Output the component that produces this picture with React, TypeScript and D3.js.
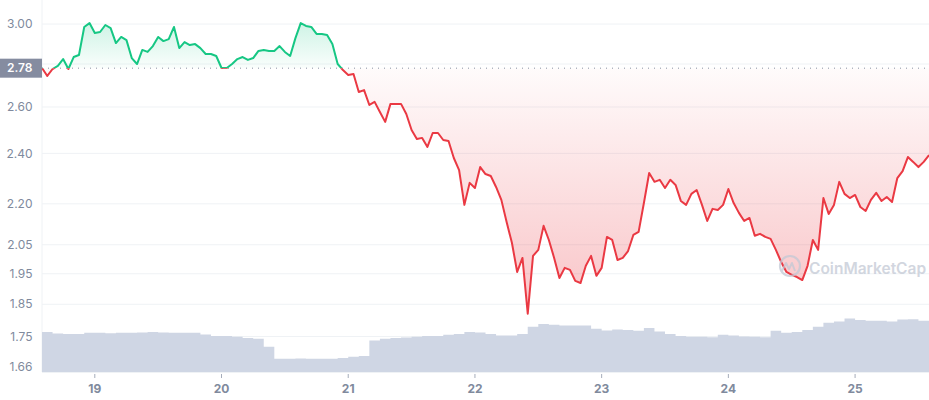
import React from 'react';
import * as d3 from 'd3';

// Hourly prices (USD), starting 18th 14:00 UTC
const START = Date.UTC(2021, 9, 18, 14);
const HOUR = 3600 * 1000;

const prices = [
  2.781, 2.743, 2.776, 2.791, 2.824, 2.776, 2.834, 2.844, 2.985, 3.005,
  2.954, 2.959, 2.995, 2.979, 2.903, 2.934, 2.918, 2.829, 2.800, 2.869,
  2.859, 2.888, 2.934, 2.913, 2.923, 2.985, 2.878, 2.908, 2.893, 2.898,
  2.878, 2.849, 2.849, 2.839, 2.781, 2.781, 2.800, 2.824, 2.834, 2.820,
  2.829, 2.864, 2.869, 2.864, 2.864, 2.888, 2.859, 2.839, 2.928, 3.005,
  2.990, 2.985, 2.949, 2.949, 2.944, 2.898, 2.800, 2.771, 2.748, 2.752,
  2.668, 2.677, 2.609, 2.623, 2.578, 2.534, 2.614, 2.614, 2.614, 2.569,
  2.499, 2.460, 2.465, 2.427, 2.486, 2.486, 2.456, 2.452, 2.381, 2.332,
  2.196, 2.281, 2.261, 2.344, 2.316, 2.308, 2.265, 2.215, 2.132, 2.057,
  1.956, 2.004, 1.820, 2.011, 2.032, 2.118, 2.067, 2.004, 1.936, 1.970,
  1.963, 1.926, 1.919, 1.977, 2.011, 1.943, 1.970, 2.078, 2.067, 1.997,
  2.004, 2.028, 2.085, 2.096, 2.203, 2.320, 2.285, 2.293, 2.261, 2.293,
  2.273, 2.211, 2.196, 2.238, 2.253, 2.196, 2.136, 2.181, 2.177, 2.196,
  2.257, 2.203, 2.166, 2.136, 2.147, 2.082, 2.089, 2.078, 2.071, 2.032,
  1.990, 1.956, 1.946, 1.939, 1.929, 1.977, 2.067, 2.032, 2.222, 2.162,
  2.196, 2.285, 2.238, 2.222, 2.234, 2.188, 2.173, 2.215, 2.242, 2.211,
  2.226, 2.207, 2.300, 2.328, 2.385, 2.365, 2.344, 2.365, 2.393,
];

// 2-hourly volume (millions USD)
const volumes = [
  100, 96, 95, 95, 98, 98, 97, 98, 98, 99,
  100, 99, 98, 98, 98, 94, 90, 90, 88, 85,
  83, 63, 33, 33, 34, 33, 33, 33, 35, 38,
  40, 79, 83, 85, 86, 88, 90, 90, 93, 95,
  100, 99, 95, 91, 91, 95, 113, 120, 118, 116,
  116, 116, 108, 104, 106, 105, 103, 110, 101, 95,
  90, 88, 88, 87, 93, 91, 89, 88, 87, 103,
  98, 100, 105, 113, 123, 126, 134, 130, 128, 128,
  126, 131, 132, 128,
];

// grid levels; the 2.80 level is covered by the reference-price label
const yTicks = [3.0, 2.8, 2.6, 2.4, 2.2, 2.05, 1.95, 1.85, 1.75, 1.66];
const yTickLabels = [3.0, 2.6, 2.4, 2.2, 2.05, 1.95, 1.85, 1.75, 1.66];
const refPrice = 2.78;
const refLabel = '2.78';
const watermark = 'CoinMarketCap';

const W = 929;
const H = 400;
const LEFT = 42;
const BOTTOM = 372;

const GREEN = '#16c784';
const RED = '#ea3943';
const GRID = '#eff2f5';
const LABEL = '#808a9d';

export default function App() {
  const end = START + 168 * HOUR;
  const x = d3.scaleUtc().domain([new Date(START), new Date(end)]).range([LEFT, W]);
  const y = d3.scaleLog().domain([1.646, 3.127]).range([BOTTOM, 0]);
  const yv = d3.scaleLinear().domain([0, 300]).range([BOTTOM, BOTTOM - 120]);

  const priceData = prices.map((p, i) => ({ t: new Date(START + i * HOUR), p }));
  const volData = volumes.map((v, i) => ({ t: new Date(START + i * 2 * HOUR), v }));
  volData.push({ t: new Date(end), v: volumes[volumes.length - 1] });

  const baseY = y(refPrice);

  const line = d3.line<{ t: Date; p: number }>().x(d => x(d.t)).y(d => y(d.p));
  const area = d3
    .area<{ t: Date; p: number }>()
    .x(d => x(d.t))
    .y0(baseY)
    .y1(d => y(d.p));
  const volArea = d3
    .area<{ t: Date; v: number }>()
    .x(d => x(d.t))
    .y0(BOTTOM)
    .y1(d => yv(d.v))
    .curve(d3.curveStepAfter);

  const dayTicks = d3.utcDay.range(new Date(START), new Date(end));
  const fmt = d3.utcFormat('%-d');

  return (
    <svg
      width={W}
      height={H}
      style={{ position: 'absolute', left: 0, top: 0, display: 'block', background: '#fff' }}
      fontFamily="Inter, 'Noto Sans', sans-serif"
    >
      <defs>
        <clipPath id="above">
          <rect x={LEFT} y={0} width={W - LEFT} height={baseY} />
        </clipPath>
        <clipPath id="below">
          <rect x={LEFT} y={baseY} width={W - LEFT} height={BOTTOM - baseY} />
        </clipPath>
        <linearGradient id="gGreen" gradientUnits="userSpaceOnUse" x1="0" y1={y(3.02)} x2="0" y2={baseY}>
          <stop offset="0" stopColor={GREEN} stopOpacity={0.22} />
          <stop offset="1" stopColor={GREEN} stopOpacity={0.02} />
        </linearGradient>
        <linearGradient id="gRed" gradientUnits="userSpaceOnUse" x1="0" y1={baseY} x2="0" y2={y(1.83)}>
          <stop offset="0" stopColor={RED} stopOpacity={0.02} />
          <stop offset="1" stopColor={RED} stopOpacity={0.3} />
        </linearGradient>
      </defs>

      {/* grid */}
      {yTicks.map(t => (
        <line key={t} x1={LEFT} x2={W} y1={y(t)} y2={y(t)} stroke={GRID} strokeWidth={1} />
      ))}
      <line x1={LEFT} x2={LEFT} y1={0} y2={BOTTOM} stroke={GRID} strokeWidth={1} />

      {/* volume */}
      <path d={volArea(volData) || ''} fill="#cfd6e4" />
      <line x1={LEFT} x2={W} y1={BOTTOM + 0.5} y2={BOTTOM + 0.5} stroke={GRID} strokeWidth={1} />

      {/* price fills */}
      <path d={area(priceData) || ''} fill="url(#gGreen)" clipPath="url(#above)" />
      <path d={area(priceData) || ''} fill="url(#gRed)" clipPath="url(#below)" />

      {/* reference dotted line */}
      <line
        x1={LEFT}
        x2={W}
        y1={baseY}
        y2={baseY}
        stroke="#8a92a3"
        strokeWidth={1}
        strokeDasharray="1 5"
      />

      {/* price lines */}
      <path d={line(priceData) || ''} fill="none" stroke={GREEN} strokeWidth={2} strokeLinejoin="round" clipPath="url(#above)" />
      <path d={line(priceData) || ''} fill="none" stroke={RED} strokeWidth={2} strokeLinejoin="round" clipPath="url(#below)" />

      {/* y labels */}
      {yTickLabels.map(t => (
        <text key={t} x={32.5} y={y(t)} dy="0.35em" textAnchor="end" fontSize={12} fill={LABEL}>
          {t.toFixed(2)}
        </text>
      ))}

      {/* reference label */}
      <rect x={0} y={baseY - 9.5} width={LEFT} height={19} fill="#858ca0" />
      <text x={32.5} y={baseY} dy="0.35em" textAnchor="end" fontSize={12} fontWeight={600} fill="#fff">
        {refLabel}
      </text>

      {/* x axis */}
      {dayTicks.map(d => (
        <g key={d.getTime()} transform={`translate(${x(d)},0)`}>
          <line y1={BOTTOM + 2} y2={BOTTOM + 6} stroke="#a6adbb" strokeWidth={1} />
          <text y={393} textAnchor="middle" fontSize={12} fontWeight={700} fill={LABEL}>
            {fmt(d)}
          </text>
        </g>
      ))}

      {/* watermark */}
      <g opacity={0.75}>
        <circle cx={790} cy={266} r={10} fill="none" stroke="#c3c9d5" strokeWidth={2.2} />
        <path
          d="M782 271 L786 263 L789 269 L792 263 L795 271"
          fill="none"
          stroke="#c3c9d5"
          strokeWidth={2}
          strokeLinejoin="round"
        />
        <text x={809} y={274} fontSize={15.5} fontWeight={600} fill="#c3c9d5">
          {watermark}
        </text>
      </g>
    </svg>
  );
}
